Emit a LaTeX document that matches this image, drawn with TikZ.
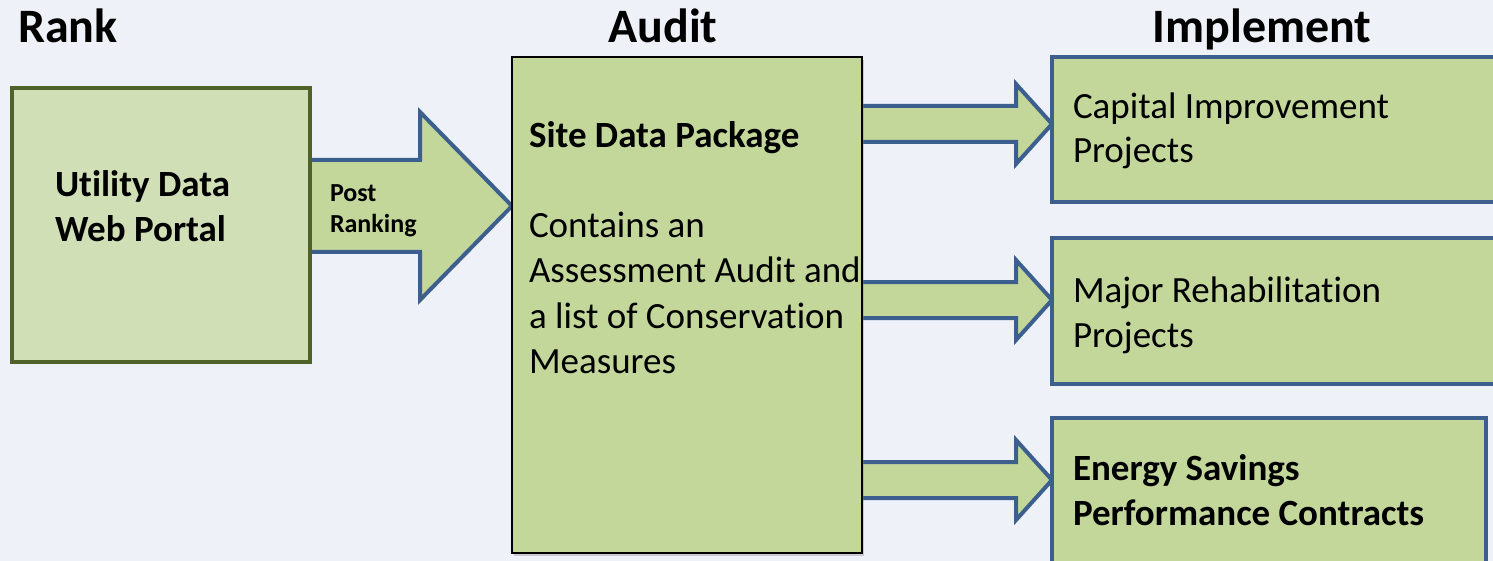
\documentclass[tikz,border=0pt]{standalone}
\usepackage{fontspec}
\setmainfont{Carlito}[RawFeature={-liga;-clig;-calt;-dlig}]
\usetikzlibrary{shadows}
\definecolor{bg}{HTML}{EEF2F8}
\definecolor{boxgreen}{HTML}{C4D79B}
\definecolor{lightgreen}{HTML}{D0DFB5}
\definecolor{olivedark}{HTML}{4F6228}
\definecolor{steel}{HTML}{3D5F8E}
\pgfdeclarelayer{bgfill}
\pgfdeclarelayer{arrowlayer}
\pgfsetlayers{bgfill,arrowlayer,main}
\begin{document}
\begin{tikzpicture}[x=1pt,y=-1pt,
  boxbase/.style={rectangle,anchor=north west,inner sep=0pt,outer sep=0pt},
  rankbox/.style={boxbase,fill=lightgreen,draw=olivedark,line width=4pt},
  auditbox/.style={boxbase,fill=boxgreen,draw=black,line width=2pt,
     drop shadow={opacity=0.35,shadow xshift=2pt,shadow yshift=-3pt}},
  implbox/.style={boxbase,fill=boxgreen,draw=steel,line width=4pt},
  barrow/.style={fill=boxgreen,draw=steel,line width=4pt,line join=miter},
  txt/.style={anchor=base west,inner sep=0pt,outer sep=0pt},
  hdr/.style={inner sep=0pt,outer sep=0pt,font=\fontsize{48}{52}\selectfont\bfseries},
  body/.style={txt,font=\fontsize{37}{45}\selectfont},
  bbody/.style={txt,font=\fontsize{37}{45}\selectfont\bfseries},
  sbody/.style={txt,font=\fontsize{26}{31}\selectfont\bfseries}]
\useasboundingbox (0,0) rectangle (1493,561);
\clip (0,0) rectangle (1493,561);
\begin{pgfonlayer}{bgfill}
\fill[bg] (0,0) rectangle (1493,561);
\end{pgfonlayer}

% headers
\node[hdr,anchor=base west] (rank) at (18,43) {Rank};
\node[hdr,anchor=base] (audit) at (663,43) {Audit};
\node[hdr,anchor=base] (impl) at (1262,43) {Implement};

% boxes
\node[rankbox,minimum width=298pt,minimum height=274pt] (portal) at (12,88) {};
\node[auditbox,minimum width=350pt,minimum height=496pt] (package) at (512,57) {};
\node[implbox,minimum width=500pt,minimum height=145pt] (capital) at (1052,57) {};
\node[implbox,minimum width=500pt,minimum height=146pt] (major) at (1052,238) {};
\node[implbox,minimum width=434pt,minimum height=200pt] (energy) at (1052,418) {};

% arrow helper coordinates
\coordinate (a1s) at ([xshift=-8pt]portal.east);
\coordinate (a1h) at ([xshift=-92pt]package.west);
\coordinate (a2s) at ([xshift=-8pt]package.east);
\coordinate (a2h) at ([xshift=-36pt]capital.west);
\coordinate (a3h) at ([xshift=-36pt]major.west);
\coordinate (a4h) at ([xshift=-36pt]energy.west);

\begin{pgfonlayer}{arrowlayer}
\draw[barrow] (a1s |- 0,160) -- (a1h |- 0,160) -- (a1h |- 0,112)
   -- (package.west |- 0,206) -- (a1h |- 0,300) -- (a1h |- 0,252) -- (a1s |- 0,252) -- cycle;
\draw[barrow] (a2s |- 0,106) -- (a2h |- 0,106) -- (a2h |- 0,84)
   -- (capital.west |- 0,124) -- (a2h |- 0,164) -- (a2h |- 0,142) -- (a2s |- 0,142) -- cycle;
\draw[barrow] (a2s |- 0,282) -- (a3h |- 0,282) -- (a3h |- 0,260)
   -- (major.west |- 0,300) -- (a3h |- 0,340) -- (a3h |- 0,318) -- (a2s |- 0,318) -- cycle;
\draw[barrow] (a2s |- 0,462) -- (a4h |- 0,462) -- (a4h |- 0,440)
   -- (energy.west |- 0,480) -- (a4h |- 0,520) -- (a4h |- 0,498) -- (a2s |- 0,498) -- cycle;
\end{pgfonlayer}

% texts
\node[bbody] (u1) at (55,197) {Utility Data};
\node[bbody] (u2) at (55,242) {Web Portal};
\node[sbody] (p1) at (330,202) {Post};
\node[sbody] (p2) at (330,233) {Ranking};
\node[bbody] (s1) at (529,148) {Site Data Package};
\node[body] (c1) at (529,238) {Contains an};
\node[body] (c2) at (529,283) {Assessment Audit and};
\node[body] (c3) at (529,328) {a list of Conservation};
\node[body] (c4) at (529,373) {Measures};
\node[body] (cap1) at (1073,119) {Capital Improvement};
\node[body] (cap2) at (1073,163) {Projects};
\node[body] (maj1) at (1073,302) {Major Rehabilitation};
\node[body] (maj2) at (1073,347) {Projects};
\node[bbody] (en1) at (1073,480) {Energy Savings};
\node[bbody] (en2) at (1073,525) {Performance Contracts};
\end{tikzpicture}
\end{document}
